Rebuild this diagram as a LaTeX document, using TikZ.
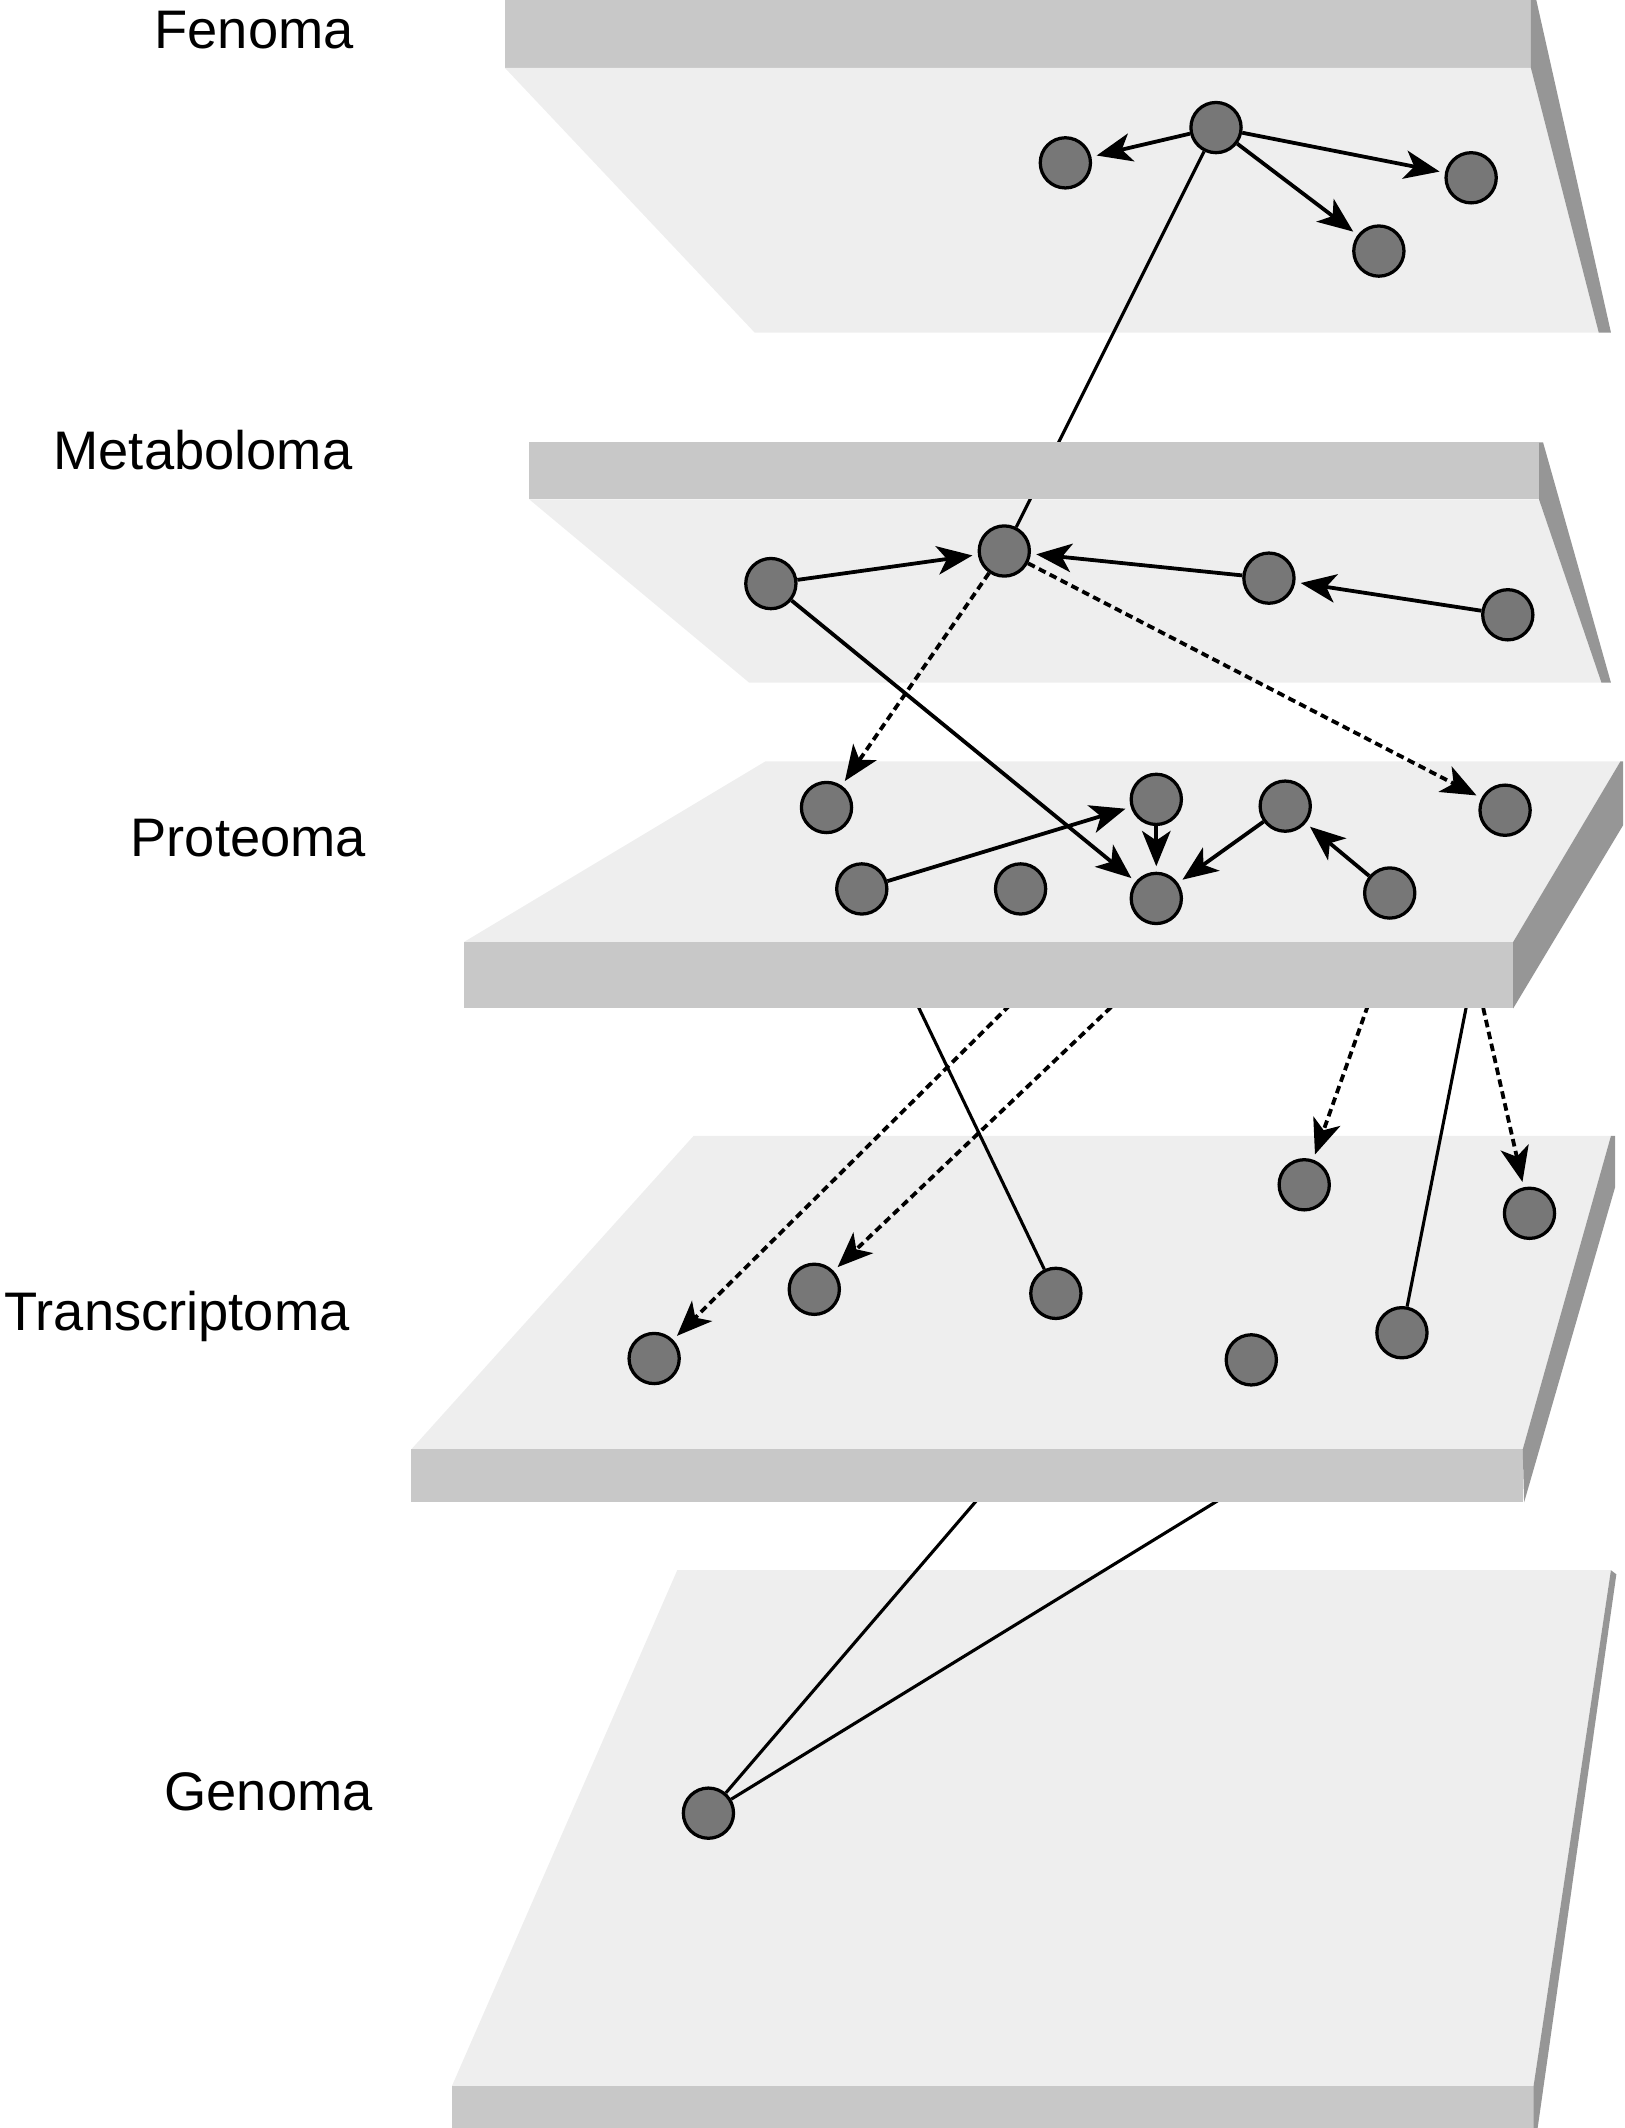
\documentclass[tikz,border=0pt]{standalone}
\usepackage{fontspec}
\setmainfont{Liberation Sans}
\usepackage{xcolor}
\usepackage{tikz}
\usetikzlibrary{arrows.meta}
\definecolor{planegray}{RGB}{238,238,238}
\definecolor{bandgray}{RGB}{200,200,200}
\definecolor{sidegray}{RGB}{150,150,150}
\definecolor{molgray}{RGB}{119,119,119}
\pgfdeclarelayer{gslab}
\pgfdeclarelayer{glinks}
\pgfdeclarelayer{tslab}
\pgfdeclarelayer{tlinks}
\pgfdeclarelayer{pslab}
\pgfdeclarelayer{links}
\pgfdeclarelayer{mband}
\pgfsetlayers{gslab,glinks,tslab,tlinks,pslab,links,mband,main}

\begin{document}
\begin{tikzpicture}[
      x=0.5pt, y=-0.5pt,
      planefill/.style={fill=planegray},
      bandfill/.style={fill=bandgray},
      sidefill/.style={fill=sidegray},
      mol/.style={circle, draw=black, line width=1.2pt, fill=molgray,
                  minimum size=18.5pt, inner sep=0pt},
      lab/.style={anchor=base east, inner sep=0pt,
                  font=\fontsize{20pt}{24pt}\selectfont},
      link/.style={line width=1.15pt, draw=black},
      arr/.style={-{Stealth[length=13pt,width=10.5pt,inset=3.5pt]},
                  line width=1.4pt, draw=black, shorten >=2pt},
      darr/.style={arr, dash pattern=on 2.8pt off 1.7pt}
    ]
    \useasboundingbox (0,0) rectangle (1197,1568);
    % layer labels
    \node[lab] (fenoma) at (261,36)   {Fenoma};
    \node[lab] (metab)  at (260,346)  {Metaboloma};
    \node[lab] (prot)   at (270,631)  {Proteoma};
    \node[lab] (trans)  at (258,980)  {Transcriptoma};
    \node[lab] (genoma) at (275,1334) {Genoma};
    % slabs: fenoma, metaboloma (seen from below), proteoma
    \begin{pgfonlayer}{pslab}
      \fill[bandfill] (372,0) rectangle (1128,50);
      \fill[planefill] (372,50) -- (1128,50) -- (1178,245) -- (556,245) -- cycle;
      \fill[sidefill] (1128,0) -- (1132,0) -- (1187,245) -- (1178,245) -- (1128,50) -- cycle;
      \fill[planefill] (390,368) -- (1134,368) -- (1180,503) -- (552,503) -- cycle;
      \fill[sidefill] (1134,326) -- (1137,326) -- (1187,503) -- (1180,503) -- (1134,368) -- cycle;
      \fill[planefill] (564,561) -- (1194,561) -- (1115,694) -- (342,694) -- cycle;
      \fill[bandfill] (342,694) rectangle (1115,743);
      \fill[sidefill] (1115,694) -- (1194,561) -- (1196,561) -- (1196,608) -- (1115,743) -- cycle;
    \end{pgfonlayer}
    \begin{pgfonlayer}{mband}
      \fill[bandfill] (390,326) rectangle (1134,368);
    \end{pgfonlayer}
    % transcriptoma slab
    \begin{pgfonlayer}{tslab}
      \fill[planefill] (511,837) -- (1187,837) -- (1122,1068) -- (303,1068) -- cycle;
      \fill[bandfill] (303,1068) rectangle (1122,1107);
      \fill[sidefill] (1122,1068) -- (1187,837) -- (1190,837) -- (1190,875) -- (1123,1107) -- cycle;
    \end{pgfonlayer}
    % genoma slab
    \begin{pgfonlayer}{gslab}
      \fill[planefill] (499,1157) -- (1187,1157) -- (1130,1537) -- (333,1537) -- cycle;
      \fill[bandfill] (333,1537) rectangle (1130,1568);
      \fill[sidefill] (1130,1537) -- (1187,1157) -- (1191,1160) -- (1133,1568) -- (1130,1568) -- cycle;
    \end{pgfonlayer}

    % molecules
    \node[mol] (f1) at (896,94)  {};
    \node[mol] (f2) at (785,120) {};
    \node[mol] (f3) at (1084,131) {};
    \node[mol] (f4) at (1016,185) {};
    \node[mol] (m1) at (568,430) {};
    \node[mol] (m2) at (740,406) {};
    \node[mol] (m3) at (935,426) {};
    \node[mol] (m4) at (1111,453) {};
    \node[mol] (pa) at (609,595) {};
    \node[mol] (pb) at (852,589) {};
    \node[mol] (pc) at (947,594) {};
    \node[mol] (pd) at (1109,597) {};
    \node[mol] (pe) at (635,655) {};
    \node[mol] (pf) at (752,655) {};
    \node[mol] (pg) at (852,662) {};
    \node[mol] (ph) at (1024,658) {};
    \node[mol] (ta) at (482,1001) {};
    \node[mol] (tb) at (600,950) {};
    \node[mol] (tc) at (778,953) {};
    \node[mol] (td) at (961,873) {};
    \node[mol] (te) at (1127,894) {};
    \node[mol] (tf) at (922,1002) {};
    \node[mol] (tg) at (1033,982) {};
    \node[mol] (ga) at (522,1336) {};
    % hidden ends under the slabs
    \coordinate (srcA) at (795,690);
    \coordinate (srcB) at (884,680);
    \coordinate (srcC) at (1026,690);
    \coordinate (srcD) at (1081,690);
    \coordinate (srcE) at (733,1090);
    \coordinate (srcF) at (923,1090);

    % links on the planes
    \begin{pgfonlayer}{links}
      \draw[arr] (f1) -- (f2);
      \draw[arr] (f1) -- (f3);
      \draw[arr] (f1) -- (f4);
      \draw[link] (f1) -- (m2);
      \draw[arr] (m1) -- (m2);
      \draw[arr] (m3) -- (m2);
      \draw[arr] (m4) -- (m3);
      \draw[darr] (m2) -- (pa);
      \draw[darr] (m2) -- (pd);
      \draw[arr] (m1) -- (pg);
      \draw[arr] (pe) -- (pb);
      \draw[arr] (pb) -- (pg);
      \draw[arr] (pc) -- (pg);
      \draw[arr] (ph) -- (pc);
    \end{pgfonlayer}
    % proteoma -> transcriptoma, behind the proteoma slab
    \begin{pgfonlayer}{tlinks}
      \draw[link] (pe) -- (tc);
      \draw[link] (pd) -- (tg);
      \draw[darr] (srcA) -- (ta);
      \draw[darr] (srcB) -- (tb);
      \draw[darr] (srcC) -- (td);
      \draw[darr] (srcD) -- (te);
    \end{pgfonlayer}
    % transcriptoma -> genoma, behind the transcriptoma slab
    \begin{pgfonlayer}{glinks}
      \draw[link] (srcE) -- (ga);
      \draw[link] (srcF) -- (ga);
    \end{pgfonlayer}
  \end{tikzpicture}
\end{document}
